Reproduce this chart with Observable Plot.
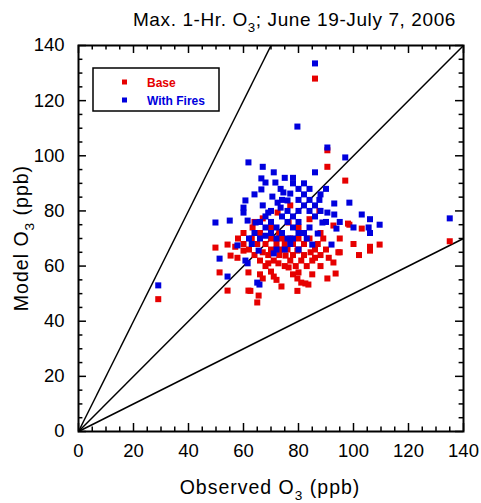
<!DOCTYPE html>
<html><head><meta charset="utf-8">
<script src="https://cdn.jsdelivr.net/npm/d3@7"></script>
<script src="https://cdn.jsdelivr.net/npm/@observablehq/plot@0.6"></script>
<style>
body{margin:0;background:#fff;}
svg{font-family:"Liberation Sans",Arial,sans-serif;}
</style>
</head><body><div id="chart"></div>
<script>
// Base run: observed vs modeled (ppb)
const baseObs = [29,86,90.5,90.5,97,135,49.8,51.3,54.2,54.2,55.3,57.8,60,61.8,61.8,65,65.5,67,71,73.8,69,72.7,76.4,75.3,79.6,80,82.5,83.6,79.6,81,90.5,93.5,92.7,91,94.5,84.4,86,79.6,95,98.5,103,106,106,109.5,87.6,98,92.7,77,72.4,67,63.3,76.4,58,60,62,63,64,65,66,66,67,68,68,69,70,70,71,72,73,74,74,75,75,76,77,77,78,78,79,80,80,81,82,82,83,84,85,86,87,88,88,89,90,66,70,72,78,85,60,64,70,73,80,84,88,100,57,95,102,62.5];
const baseModel = [48,128,102,96,91,69,66.7,57.7,51.1,67.8,63.8,63,65.6,57.7,51.1,46.8,49.3,55.5,56.2,52.6,61,61,59.5,63.8,51,57.7,53.7,53.3,55.5,54,55.5,57.3,61.3,63,65,65,63,65.6,65,75,73.6,65.6,67,67.8,80,75.4,74.7,82,79.4,77.3,74,75.8,70,68,66,70,64,68,62,72,65,60,68,64,66,70,62,68,64,66,70,60,68,66,62,70,64,68,60,66,70,62,64,68,60,70,62,66,68,60,64,70,66,57,58,55,57,57,72,76,74,72,74,77,72,68,67,70,64,51];
// With fires run
const firesObs = [29,86,79.6,97,90.5,135,98.5,103,106,109.5,106,84,87.6,93,90.5,93,88.7,93.8,105.5,61.8,67,66.5,68,71.6,73.5,78,66.5,74.5,70.5,77,60.7,72.4,76,60,67,73.5,60,69,49.8,55,61.5,64.4,51.3,54.2,65,65.8,61.5,60.7,57.8,71,65.5,68,92,85,87,78,80,82,84,80,76,78,80,82,84,86,70,72,74,76,78,80,82,84,86,88,90,66,68,70,72,74,76,78,80,64,62,66,68,70,63,72,75,77,80,83,71,75,82,88,90,95,100,86,74,64];
const firesModel = [53,133.5,110.6,99.4,103,77.3,83,78.7,77,75,72,88,84,82.7,79.4,78.7,75.8,73.6,74,97.6,96,91.8,90.3,90.3,88,90,87.8,86.7,85.2,86.3,83.8,83,83.8,81.2,82,81.2,79.4,79.4,75.8,76.5,76.5,75.8,62.7,56.2,54,53.3,61,62,67.5,64.6,65.6,71,67.8,67.8,71.8,92,88,86,84,84,80,78,80,82,80,78,76,74,78,76,74,76,72,74,82,86,88,70,74,72,70,72,70,70,72,72,70,76,78,80,68,66,66,68,66,70,94,92,90,80,76,76,74,94,84,86];
const refSlopes = [0.5, 1, 2];
const majorTicks = [0,20,40,60,80,100,120,140];
const allTicks = d3.range(0, 141, 5);
const legendLabels = ["Base", "With Fires"];
const RED = "#e60000", BLUE = "#0000dd";

const base = baseObs.map((x,i)=>({x, y: baseModel[i]}));
const fires = firesObs.map((x,i)=>({x, y: firesModel[i]}));
const tick = d => (d % 20 === 0 ? 2.9 : 1.6);

const plot = Plot.plot({
  width: 481, height: 503,
  marginLeft: 78, marginRight: 18, marginTop: 45, marginBottom: 72,
  x: {domain: [0,140], label: null},
  y: {domain: [0,140], label: null},
  style: {fontFamily: '"Liberation Sans", Arial, sans-serif', fontSize: "18.5px", background: "white", color: "black"},
  marks: [
    Plot.link(refSlopes, {x1: 0, y1: 0, x2: d => Math.min(140, 140/d), y2: d => Math.min(140, 140*d), stroke: "black", strokeWidth: 1.5}),
    Plot.dot(base, {x: "x", y: "y", symbol: "square", r: 3.4, fill: RED, stroke: "none"}),
    Plot.dot(fires, {x: "x", y: "y", symbol: "square", r: 3.4, fill: BLUE, stroke: "none"}),
    // inward ticks on all four sides
    Plot.ruleX(allTicks, {x: d => d, y1: 0, y2: d => tick(d), stroke: "black", strokeWidth: 1.5}),
    Plot.ruleX(allTicks, {x: d => d, y1: 140, y2: d => 140 - tick(d), stroke: "black", strokeWidth: 1.5}),
    Plot.ruleY(allTicks, {y: d => d, x1: 0, x2: d => tick(d), stroke: "black", strokeWidth: 1.5}),
    Plot.ruleY(allTicks, {y: d => d, x1: 140, x2: d => 140 - tick(d), stroke: "black", strokeWidth: 1.5}),
    Plot.frame({stroke: "black", strokeWidth: 2}),
    Plot.axisX(majorTicks, {anchor: "bottom", tickSize: 0, tickPadding: 12, label: null, fontSize: 18.5}),
    Plot.axisY(majorTicks, {anchor: "left", tickSize: 0, tickPadding: 14, label: null, fontSize: 18.5})
  ]
});

const svg = d3.select(plot);
function subText(parent, x, y, anchor, size, pre, sub, post, rotate, ls) {
  const t = parent.append("text")
    .attr("x", x).attr("y", y)
    .attr("text-anchor", anchor)
    .attr("font-size", size)
    .attr("letter-spacing", ls || 0)
    .attr("fill", "black");
  if (rotate) t.attr("transform", `rotate(-90 ${x} ${y})`);
  t.append("tspan").text(pre);
  t.append("tspan").attr("font-size", size * 0.7).attr("dy", size * 0.3).text(sub);
  t.append("tspan").attr("dy", -size * 0.3).text(post);
  return t;
}
subText(svg, 456, 26, "end", 19, "Max. 1-Hr. O", "3", "; June 19-July 7, 2006", false, 0.6);
subText(svg, 270, 494, "middle", 19.5, "Observed O", "3", " (ppb)", false, 1);
subText(svg, 28, 238, "middle", 19.5, "Model O", "3", " (ppb)", true, 1);

// legend
const lg = svg.append("g").attr("text-anchor", "start");
lg.append("rect").attr("x", 93).attr("y", 68).attr("width", 126).attr("height", 43)
  .attr("fill", "white").attr("stroke", "black").attr("stroke-width", 1.5);
[[RED, 82],[BLUE, 100]].forEach(([c, yy], i) => {
  lg.append("rect").attr("x", 122).attr("y", yy - 2.5).attr("width", 5).attr("height", 5).attr("fill", c);
  lg.append("text").attr("x", 147).attr("y", yy + 4.5).attr("font-size", 12).attr("font-weight", "bold")
    .attr("text-anchor", "start").attr("fill", c).text(legendLabels[i]);
});

document.getElementById("chart").appendChild(plot);
</script>
</body></html>
